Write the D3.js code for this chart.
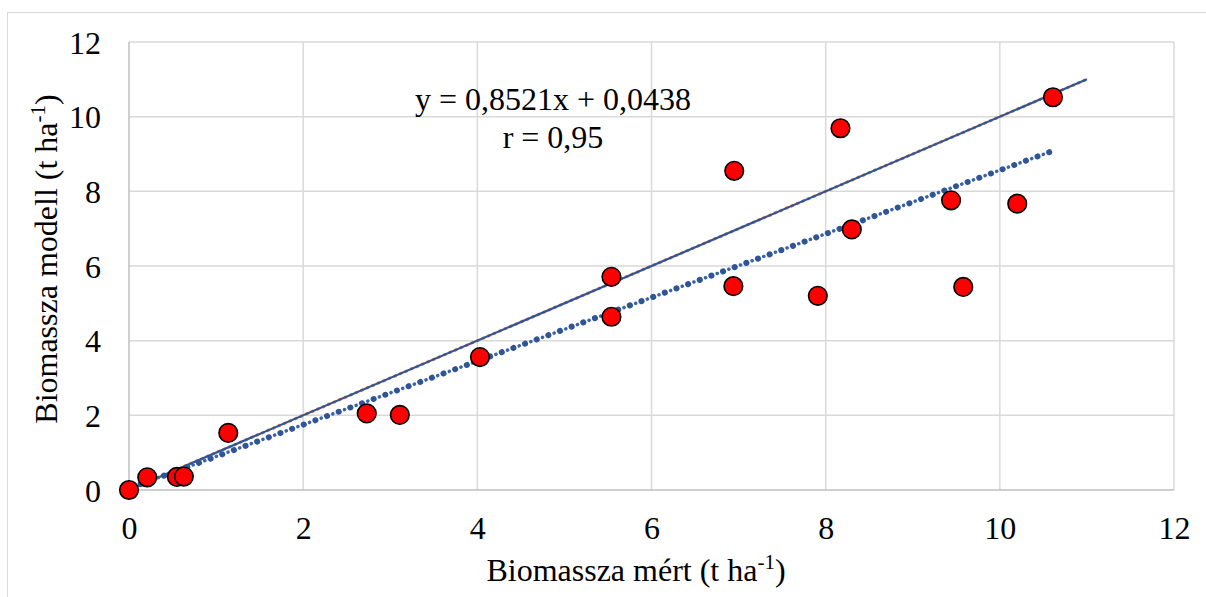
<!DOCTYPE html>
<html><head><meta charset="utf-8">
<script src="https://cdn.jsdelivr.net/npm/d3@7"></script>
<style>html,body{margin:0;padding:0;background:#fff;}svg{display:block;}
svg text{font-family:"Liberation Serif","Times New Roman",Times,serif;}</style>
</head><body>
<svg id="c" width="1206" height="597"></svg>
<script>
const measured = [0, 0.21, 0.55, 0.63, 1.14, 2.73, 3.11, 4.03, 5.54, 5.54, 6.95, 6.94, 7.91, 8.30, 8.17, 9.44, 10.20, 9.58, 10.61];
const modelled = [0, 0.34, 0.35, 0.36, 1.53, 2.05, 2.01, 3.56, 5.71, 4.64, 8.55, 5.46, 5.20, 6.98, 9.69, 7.76, 7.67, 5.44, 10.52];
const xTicks = [0, 2, 4, 6, 8, 10, 12];
const yTicks = [0, 2, 4, 6, 8, 10, 12];
const slope = 0.8521, intercept = 0.0438;
const oneToOne = [0, 11];
const eqText = "y = 0,8521x + 0,0438";
const rText = "r = 0,95";

const FONT = '"Liberation Serif","Times New Roman",Times,serif';
const FS = 32;
const svg = d3.select("#c");
const L = 129, R = 1174, T = 42, B = 490;
const x = d3.scaleLinear().domain([0, 12]).range([L, R]);
const y = d3.scaleLinear().domain([0, 12]).range([B, T]);

svg.append("rect").attr("x", 7.5).attr("y", 12.5).attr("width", 1210).attr("height", 600)
  .attr("fill", "none").attr("stroke", "#d9d9d9").attr("stroke-width", 1);

svg.append("g").selectAll("line").data(xTicks.filter(d => d > 0)).join("line")
  .attr("x1", d => x(d)).attr("x2", d => x(d)).attr("y1", T).attr("y2", B)
  .attr("stroke", "#d9d9d9").attr("stroke-width", 1.5);
svg.append("g").selectAll("line").data(yTicks.filter(d => d > 0)).join("line")
  .attr("x1", L).attr("x2", R).attr("y1", d => y(d)).attr("y2", d => y(d))
  .attr("stroke", "#d9d9d9").attr("stroke-width", 1.5);
svg.append("line").attr("x1", L).attr("x2", R).attr("y1", B).attr("y2", B).attr("stroke", "#bfbfbf").attr("stroke-width", 1.5);
svg.append("line").attr("x1", L).attr("x2", L).attr("y1", T).attr("y2", B).attr("stroke", "#bfbfbf").attr("stroke-width", 1.5);

const xAxis = svg.append("g").attr("transform", `translate(0,${B})`)
  .call(d3.axisBottom(x).tickValues(xTicks).tickSize(0).tickPadding(0).tickFormat(d3.format("d")));
xAxis.attr("font-family", FONT).attr("font-size", FS);
xAxis.select(".domain").remove();
xAxis.selectAll("text").attr("dy", null).attr("y", 49).style("font-family", FONT).style("font-size", FS + "px").attr("fill", "#000");
const yAxis = svg.append("g").attr("transform", `translate(${L},0)`)
  .call(d3.axisLeft(y).tickValues(yTicks).tickSize(0).tickPadding(28).tickFormat(d3.format("d")));
yAxis.attr("font-family", FONT).attr("font-size", FS);
yAxis.select(".domain").remove();
yAxis.selectAll("text").attr("dy", "0.35em").style("font-family", FONT).style("font-size", FS + "px").attr("fill", "#000");

const line = d3.line().x(d => x(d[0])).y(d => y(d[1]));
const oo = oneToOne.map(v => [v, v]);
svg.append("path").attr("d", line(oo)).attr("stroke", "#ed7d31").attr("stroke-width", 3).attr("stroke-dasharray", "3,3").attr("fill", "none");
svg.append("path").attr("d", line(oo)).attr("stroke", "#2f5597").attr("stroke-width", 2.2).attr("fill", "none");

const xmax = d3.max(measured);
const reg = [[0, intercept], [xmax, slope * xmax + intercept]];
svg.append("path").attr("d", line(reg)).attr("stroke", "#2f5597").attr("stroke-width", 6)
  .attr("stroke-linecap", "round").attr("stroke-dasharray", "0.1,12.3").attr("fill", "none");
svg.append("path").attr("d", line(reg)).attr("stroke", "#3a63ad").attr("stroke-width", 3.5)
  .attr("stroke-linecap", "round").attr("stroke-dasharray", "0.1,12.3").attr("stroke-dashoffset", -6.2).attr("fill", "none");

svg.append("g").selectAll("circle").data(measured.map((m, i) => [m, modelled[i]])).join("circle")
  .attr("cx", d => x(d[0])).attr("cy", d => y(d[1])).attr("r", 9.3)
  .attr("fill", "#ff0000").attr("stroke", "#000").attr("stroke-width", 1.6);

svg.append("text").attr("x", 553).attr("y", 110).attr("text-anchor", "middle")
  .style("font-size", FS + "px").text(eqText);
svg.append("text").attr("x", 553).attr("y", 148).attr("text-anchor", "middle")
  .style("font-size", FS + "px").text(rText);

const xt = svg.append("text").attr("x", 636).attr("y", 581).attr("text-anchor", "middle")
  .style("font-size", FS + "px");
xt.append("tspan").text("Biomassza mért (t ha");
xt.append("tspan").attr("dy", -12).style("font-size", "21px").text("-1");
xt.append("tspan").attr("dy", 12).text(")");

const yt = svg.append("text").attr("transform", "translate(57,259) rotate(-90)").attr("text-anchor", "middle")
  .style("font-size", FS + "px");
yt.append("tspan").text("Biomassza modell (t ha");
yt.append("tspan").attr("dy", -12).style("font-size", "21px").text("-1");
yt.append("tspan").attr("dy", 12).text(")");
</script>
</body></html>
